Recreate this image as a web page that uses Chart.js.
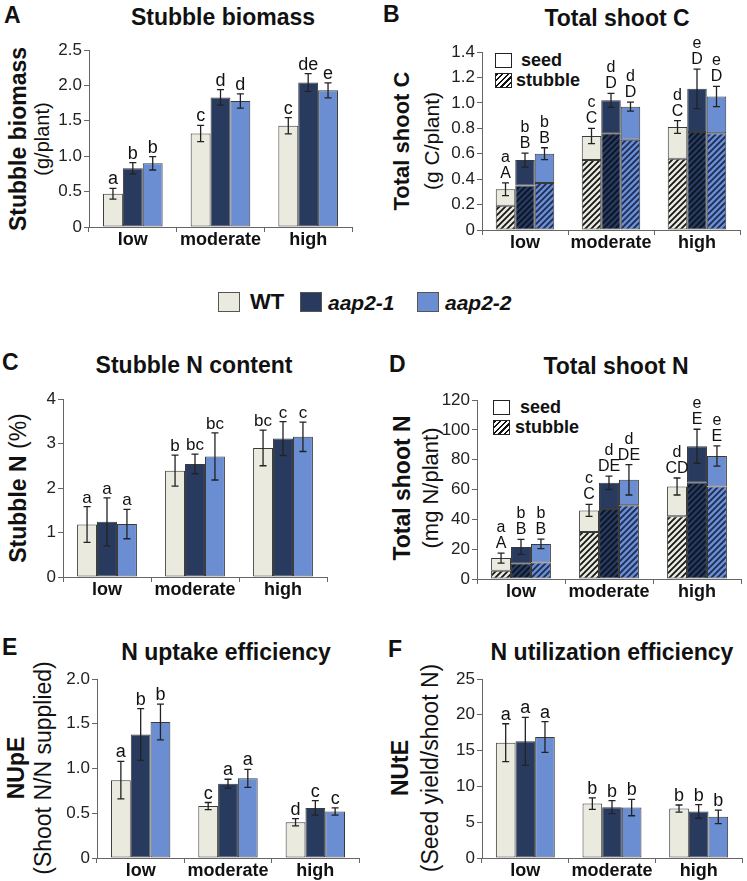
<!DOCTYPE html>
<html><head><meta charset="utf-8">
<script src="https://cdn.jsdelivr.net/npm/chart.js@4.4.1/dist/chart.umd.min.js"></script>
<style>
html,body{margin:0;padding:0;background:#fff}
body{width:747px;height:881px;position:relative;overflow:hidden;font-family:"Liberation Sans",Arial,Helvetica,sans-serif;color:#111}
canvas{position:absolute}
.t{position:absolute;white-space:nowrap;line-height:1;transform:translate(-50%,-50%)}
.title{font-weight:bold;font-size:23px}
.plab{position:absolute;font-weight:bold;font-size:23px;line-height:1}
.yl{position:absolute;white-space:nowrap;line-height:1;transform:translate(-50%,-50%) rotate(-90deg)}
.yb{font-weight:bold;font-size:23px}
.yn{font-weight:normal;font-size:21px}
.box{position:absolute;box-sizing:border-box;border:1px solid #555}
.lg{position:absolute;white-space:nowrap;line-height:1;transform:translateY(-50%);font-weight:bold}
</style></head>
<body>
<!-- panel letters -->
<div class="plab" style="left:4px;top:4px">A</div>
<div class="plab" style="left:383px;top:3px">B</div>
<div class="plab" style="left:2px;top:351px">C</div>
<div class="plab" style="left:389px;top:353px">D</div>
<div class="plab" style="left:2px;top:636px">E</div>
<div class="plab" style="left:388px;top:638px">F</div>
<!-- titles -->
<div class="t title" style="left:223px;top:17px">Stubble biomass</div>
<div class="t title" style="left:617px;top:18px">Total shoot C</div>
<div class="t title" style="left:194px;top:365px">Stubble N content</div>
<div class="t title" style="left:616px;top:366px">Total shoot N</div>
<div class="t title" style="left:226px;top:652px">N uptake efficiency</div>
<div class="t title" style="left:612px;top:652px">N utilization efficiency</div>
<!-- y axis labels -->
<div class="yl yb" style="left:18px;top:139px">Stubble biomass</div>
<div class="yl yn" style="left:42px;top:139px;font-size:20px">(g/plant)</div>
<div class="yl yb" style="left:402px;top:141px;font-size:22px">Total shoot C</div>
<div class="yl yn" style="left:431px;top:141px">(g C/plant)</div>
<div class="yl" style="left:18px;top:488px;font-size:23px"><b>Stubble N</b> (%)</div>
<div class="yl yb" style="left:402px;top:488px">Total shoot N</div>
<div class="yl yn" style="left:431px;top:488px;font-size:22px">(mg N/plant)</div>
<div class="yl yb" style="left:16px;top:768px">NUpE</div>
<div class="yl yn" style="left:43px;top:768px;font-size:23px">(Shoot N/N supplied)</div>
<div class="yl yb" style="left:400px;top:768px">NUtE</div>
<div class="yl yn" style="left:430px;top:768px;font-size:23px">(Seed yield/shoot N)</div>
<!-- main legend -->
<div class="box" style="left:218px;top:292px;width:22px;height:20px;background:#EBEADF"></div>
<div class="lg" style="left:250px;top:302px;font-size:22px">WT</div>
<div class="box" style="left:300px;top:292px;width:22px;height:20px;background:#283B5F"></div>
<div class="lg" style="left:328px;top:302px;font-size:21px;font-style:italic">aap2-1</div>
<div class="box" style="left:417px;top:292px;width:22px;height:20px;background:#6B8ED3"></div>
<div class="lg" style="left:445px;top:302px;font-size:21px;font-style:italic">aap2-2</div>
<!-- seed/stubble legends -->
<div class="box" style="left:495px;top:53px;width:17px;height:15px;background:#fff;border-color:#222"></div>
<div class="lg" style="left:521px;top:60px;font-size:18px">seed</div>
<div class="box" style="left:495px;top:73px;width:17px;height:15px;border-color:#222;background:repeating-linear-gradient(135deg,#111 0 1.6px,#fff 1.6px 4px)"></div>
<div class="lg" style="left:516px;top:80px;font-size:18px">stubble</div>
<div class="box" style="left:493px;top:400px;width:17px;height:15px;background:#fff;border-color:#222"></div>
<div class="lg" style="left:520px;top:407px;font-size:18px">seed</div>
<div class="box" style="left:493px;top:420px;width:17px;height:15px;border-color:#222;background:repeating-linear-gradient(135deg,#111 0 1.6px,#fff 1.6px 4px)"></div>
<div class="lg" style="left:515px;top:427px;font-size:18px">stubble</div>

<canvas id="cA"></canvas><canvas id="cB"></canvas><canvas id="cC"></canvas>
<canvas id="cD"></canvas><canvas id="cE"></canvas><canvas id="cF"></canvas>

<script>
// ---------------- DATA ----------------
const categories = ['low', 'moderate', 'high'];
const genotypes = ['WT', 'aap2-1', 'aap2-2'];

// A: Stubble biomass (g/plant)
const biomassWT = [0.47, 1.32, 1.43];
const biomassWTErr = [0.075, 0.115, 0.115];
const biomassA1 = [0.83, 1.83, 2.04];
const biomassA1Err = [0.08, 0.11, 0.125];
const biomassA2 = [0.90, 1.78, 1.93];
const biomassA2Err = [0.095, 0.10, 0.105];
const biomassLetWT = ['a', 'c', 'c'];
const biomassLetA1 = ['b', 'd', 'de'];
const biomassLetA2 = ['b', 'd', 'e'];
const biomassTickVals = [0, 0.5, 1.0, 1.5, 2.0, 2.5];
const biomassTicks = ['0', '0.5', '1.0', '1.5', '2.0', '2.5'];

// B: Total shoot C (g C/plant) - total and stubble part
const shootCTotalWT = [0.32, 0.74, 0.81];
const shootCStubWT = [0.19, 0.55, 0.56];
const shootCErrWT = [0.05, 0.06, 0.05];
const shootCTotalA1 = [0.55, 1.02, 1.11];
const shootCStubA1 = [0.35, 0.76, 0.77];
const shootCErrA1 = [0.055, 0.055, 0.155];
const shootCTotalA2 = [0.60, 0.97, 1.05];
const shootCStubA2 = [0.37, 0.71, 0.76];
const shootCErrA2 = [0.047, 0.035, 0.08];
const shootCLetWT = ['a', 'c', 'd'];
const shootCLetA1 = ['b', 'd', 'e'];
const shootCLetA2 = ['b', 'd', 'e'];
const shootCCapWT = ['A', 'C', 'C'];
const shootCCapA1 = ['B', 'D', 'D'];
const shootCCapA2 = ['B', 'D', 'D'];
const shootCTickVals = [0, 0.2, 0.4, 0.6, 0.8, 1.0, 1.2, 1.4];
const shootCTicks = ['0', '0.2', '0.4', '0.6', '0.8', '1.0', '1.2', '1.4'];

// C: Stubble N (%)
const stubNWT = [1.18, 2.39, 2.90];
const stubNWTErr = [0.40, 0.35, 0.40];
const stubNA1 = [1.24, 2.54, 3.11];
const stubNA1Err = [0.54, 0.22, 0.38];
const stubNA2 = [1.19, 2.71, 3.15];
const stubNA2Err = [0.33, 0.53, 0.33];
const stubNLetWT = ['a', 'b', 'bc'];
const stubNLetA1 = ['a', 'bc', 'c'];
const stubNLetA2 = ['a', 'bc', 'c'];
const stubNTickVals = [0, 1, 2, 3, 4];
const stubNTicks = ['0', '1', '2', '3', '4'];

// D: Total shoot N (mg N/plant)
const shootNTotalWT = [14, 46, 62];
const shootNStubWT = [5.5, 31.5, 42];
const shootNErrWT = [3.3, 4, 5.7];
const shootNTotalA1 = [21.5, 64.5, 89];
const shootNStubA1 = [10.5, 47, 64.5];
const shootNErrA1 = [5, 4.5, 11.4];
const shootNTotalA2 = [23.5, 66.5, 82.5];
const shootNStubA2 = [11, 49.5, 62];
const shootNErrA2 = [3.2, 10.2, 6.8];
const shootNLetWT = ['a', 'c', 'd'];
const shootNLetA1 = ['b', 'd', 'e'];
const shootNLetA2 = ['b', 'd', 'e'];
const shootNCapWT = ['A', 'C', 'CD'];
const shootNCapA1 = ['B', 'DE', 'E'];
const shootNCapA2 = ['B', 'DE', 'E'];
const shootNTickVals = [0, 20, 40, 60, 80, 100, 120];
const shootNTicks = ['0', '20', '40', '60', '80', '100', '120'];

// E: NUpE (shoot N / N supplied)
const nupeWT = [0.87, 0.58, 0.40];
const nupeWTErr = [0.21, 0.04, 0.04];
const nupeA1 = [1.38, 0.83, 0.56];
const nupeA1Err = [0.29, 0.05, 0.08];
const nupeA2 = [1.52, 0.89, 0.52];
const nupeA2Err = [0.20, 0.10, 0.04];
const nupeLetWT = ['a', 'c', 'd'];
const nupeLetA1 = ['b', 'a', 'c'];
const nupeLetA2 = ['b', 'a', 'c'];
const nupeTickVals = [0, 0.5, 1.0, 1.5, 2.0];
const nupeTicks = ['0', '0.5', '1.0', '1.5', '2.0'];

// F: NUtE (seed yield / shoot N)
const nuteWT = [16.1, 7.6, 6.9];
const nuteWTErr = [2.65, 0.8, 0.5];
const nuteA1 = [16.3, 7.1, 6.5];
const nuteA1Err = [3.35, 0.9, 0.95];
const nuteA2 = [16.9, 7.05, 5.75];
const nuteA2Err = [2.15, 1.15, 0.95];
const nuteLetWT = ['a', 'b', 'b'];
const nuteLetA1 = ['a', 'b', 'b'];
const nuteLetA2 = ['a', 'b', 'b'];
const nuteTickVals = [0, 5, 10, 15, 20, 25];
const nuteTicks = ['0', '5', '10', '15', '20', '25'];

// ---------------- STYLE ----------------
const FONT = '"Liberation Sans", Arial, Helvetica, sans-serif';
const fills = ['#EBEADF', '#283B5F', '#6B8ED3'];
const stripes = ['#151515', '#0c1424', '#1c2c52'];
const BORDER = '#3a3a3a';
const AXIS = '#666';

function hatch(bg, fg) {
  const c = document.createElement('canvas');
  c.width = 6; c.height = 6;
  const x = c.getContext('2d');
  x.fillStyle = bg; x.fillRect(0, 0, 6, 6);
  x.strokeStyle = fg; x.lineWidth = 1.8; x.lineCap = 'square';
  x.beginPath();
  x.moveTo(-1, 7); x.lineTo(7, -1);
  x.moveTo(-1, 1); x.lineTo(1, -1);
  x.moveTo(5, 7); x.lineTo(7, 5);
  x.stroke();
  return x.createPattern(c, 'repeat');
}

function errPlugin(series, opts) {
  return {
    id: 'errbars',
    afterDatasetsDraw(chart) {
      const ctx = chart.ctx, ys = chart.scales.y;
      ctx.save();
      series.forEach(s => {
        const meta = chart.getDatasetMeta(s.ds);
        meta.data.forEach((bar, i) => {
          const x = bar.x;
          const yTop = ys.getPixelForValue(s.mean[i] + s.err[i]);
          const yBot = ys.getPixelForValue(s.mean[i] - s.err[i]);
          ctx.strokeStyle = '#222'; ctx.lineWidth = 1.3;
          ctx.beginPath();
          ctx.moveTo(x, yTop); ctx.lineTo(x, yBot);
          ctx.moveTo(x - 3.5, yTop); ctx.lineTo(x + 3.5, yTop);
          ctx.moveTo(x - 3.5, yBot); ctx.lineTo(x + 3.5, yBot);
          ctx.stroke();
          ctx.fillStyle = '#111';
          ctx.textAlign = 'center'; ctx.textBaseline = 'alphabetic';
          ctx.font = opts.size + 'px ' + FONT;
          if (s.caps) {
            const yb = yTop - opts.gap;
            ctx.fillText(s.caps[i], x, yb);
            ctx.fillText(s.labels[i], x, yb - opts.row);
          } else {
            ctx.fillText(s.labels[i], x, yTop - opts.gap);
          }
        });
      });
      ctx.restore();
    }
  };
}

function place(id, box) {
  const c = document.getElementById(id);
  const W = (box.r - box.l) + 60, H = (box.b - box.t) + 30 + 32;
  c.width = W; c.height = H;
  c.style.left = (box.l - 50) + 'px';
  c.style.top = (box.t - 30) + 'px';
  c.style.width = W + 'px'; c.style.height = H + 'px';
  return c;
}

function makeChart(id, box, datasets, tickVals, tickLabels, stacked, series, annot) {
  const c = place(id, box);
  return new Chart(c, {
    type: 'bar',
    data: { labels: categories, datasets },
    options: {
      responsive: false, animation: false, devicePixelRatio: 1,
      layout: { padding: { left: 0, top: 30, right: 10, bottom: 0 } },
      plugins: { legend: { display: false }, tooltip: { enabled: false } },
      datasets: { bar: { categoryPercentage: 0.68, barPercentage: 1, borderWidth: 1, borderColor: BORDER, borderSkipped: false } },
      scales: {
        x: {
          stacked: stacked,
          grid: { display: true, drawOnChartArea: false, offset: true, color: AXIS, tickLength: 5, lineWidth: 1 },
          border: { display: true, color: AXIS, width: 1 },
          ticks: { color: '#111', font: { family: FONT, size: 18, weight: 'bold' }, padding: -3, maxRotation: 0, minRotation: 0, autoSkip: false },
          afterFit(s) { s.height = 32; }
        },
        y: {
          stacked: stacked,
          min: tickVals[0], max: tickVals[tickVals.length - 1],
          afterBuildTicks(s) { s.ticks = tickVals.map(v => ({ value: v })); },
          grid: { display: true, drawOnChartArea: false, color: AXIS, tickLength: 5, lineWidth: 1 },
          border: { display: true, color: AXIS, width: 1 },
          ticks: { color: '#222', font: { family: FONT, size: 17 }, padding: 2, callback: (v, i) => tickLabels[i] },
          afterFit(s) { s.width = 50; }
        }
      }
    },
    plugins: [errPlugin(series, annot)]
  });
}

function simpleSets(a, b, c) {
  return [a, b, c].map((d, g) => ({ label: genotypes[g], data: d, backgroundColor: fills[g] }));
}
function stackSets(totals, stubs) {
  const out = [];
  totals.forEach((tot, g) => {
    out.push({ label: genotypes[g] + ' stubble', data: stubs[g], backgroundColor: hatch(fills[g], stripes[g]), stack: genotypes[g] });
    out.push({ label: genotypes[g] + ' seed', data: tot.map((v, i) => v - stubs[g][i]), backgroundColor: fills[g], stack: genotypes[g] });
  });
  return out;
}

// A
makeChart('cA', { l: 89, t: 50, r: 352, b: 227 },
  simpleSets(biomassWT, biomassA1, biomassA2), biomassTickVals, biomassTicks, false,
  [{ ds: 0, mean: biomassWT, err: biomassWTErr, labels: biomassLetWT },
   { ds: 1, mean: biomassA1, err: biomassA1Err, labels: biomassLetA1 },
   { ds: 2, mean: biomassA2, err: biomassA2Err, labels: biomassLetA2 }],
  { size: 18, gap: 4 });

// B
makeChart('cB', { l: 482, t: 52, r: 740, b: 230 },
  stackSets([shootCTotalWT, shootCTotalA1, shootCTotalA2], [shootCStubWT, shootCStubA1, shootCStubA2]),
  shootCTickVals, shootCTicks, true,
  [{ ds: 1, mean: shootCTotalWT, err: shootCErrWT, labels: shootCLetWT, caps: shootCCapWT },
   { ds: 3, mean: shootCTotalA1, err: shootCErrA1, labels: shootCLetA1, caps: shootCCapA1 },
   { ds: 5, mean: shootCTotalA2, err: shootCErrA2, labels: shootCLetA2, caps: shootCCapA2 }],
  { size: 16, gap: 5, row: 16 });

// C
makeChart('cC', { l: 63, t: 399, r: 327, b: 577 },
  simpleSets(stubNWT, stubNA1, stubNA2), stubNTickVals, stubNTicks, false,
  [{ ds: 0, mean: stubNWT, err: stubNWTErr, labels: stubNLetWT },
   { ds: 1, mean: stubNA1, err: stubNA1Err, labels: stubNLetA1 },
   { ds: 2, mean: stubNA2, err: stubNA2Err, labels: stubNLetA2 }],
  { size: 17, gap: 4 });

// D
makeChart('cD', { l: 477, t: 400, r: 741, b: 579 },
  stackSets([shootNTotalWT, shootNTotalA1, shootNTotalA2], [shootNStubWT, shootNStubA1, shootNStubA2]),
  shootNTickVals, shootNTicks, true,
  [{ ds: 1, mean: shootNTotalWT, err: shootNErrWT, labels: shootNLetWT, caps: shootNCapWT },
   { ds: 3, mean: shootNTotalA1, err: shootNErrA1, labels: shootNLetA1, caps: shootNCapA1 },
   { ds: 5, mean: shootNTotalA2, err: shootNErrA2, labels: shootNLetA2, caps: shootNCapA2 }],
  { size: 16, gap: 5, row: 16 });

// E
makeChart('cE', { l: 97, t: 679, r: 359, b: 858 },
  simpleSets(nupeWT, nupeA1, nupeA2), nupeTickVals, nupeTicks, false,
  [{ ds: 0, mean: nupeWT, err: nupeWTErr, labels: nupeLetWT },
   { ds: 1, mean: nupeA1, err: nupeA1Err, labels: nupeLetA1 },
   { ds: 2, mean: nupeA2, err: nupeA2Err, labels: nupeLetA2 }],
  { size: 18, gap: 4 });

// F
makeChart('cF', { l: 482, t: 679, r: 742, b: 858 },
  simpleSets(nuteWT, nuteA1, nuteA2), nuteTickVals, nuteTicks, false,
  [{ ds: 0, mean: nuteWT, err: nuteWTErr, labels: nuteLetWT },
   { ds: 1, mean: nuteA1, err: nuteA1Err, labels: nuteLetA1 },
   { ds: 2, mean: nuteA2, err: nuteA2Err, labels: nuteLetA2 }],
  { size: 18, gap: 4 });
</script>
</body></html>
